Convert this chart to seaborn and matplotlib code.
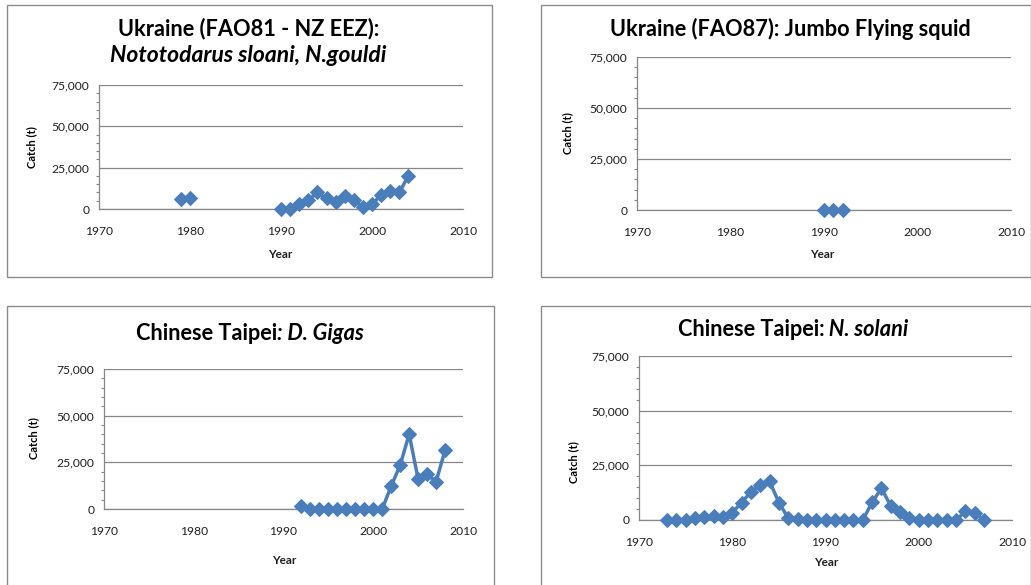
import numpy as np
import pandas as pd
import matplotlib
matplotlib.use('Agg')
import matplotlib.pyplot as plt
import matplotlib.ticker as mticker
from matplotlib.patches import Rectangle
import seaborn as sns

# catch (t) by year
years_ua81 = [1979, 1980, 1990, 1991, 1992, 1993, 1994, 1995, 1996, 1997,
              1998, 1999, 2000, 2001, 2002, 2003, 2004]
catch_ua81 = [6000, 6800, 200, 300, 2800, 5200, 10000, 6400, 4000, 7600,
              5200, 1200, 2800, 8500, 11000, 10000, 20100]

years_ua87 = [1990, 1991, 1992]
catch_ua87 = [0, 150, 0]

years_tw_gigas = [1992, 1993, 1994, 1995, 1996, 1997, 1998, 1999, 2000, 2001,
                  2002, 2003, 2004, 2005, 2006, 2007, 2008]
catch_tw_gigas = [1600, 0, 0, 0, 0, 0, 0, 0, 0, 0,
                  12300, 23500, 40100, 16000, 18500, 14600, 31500]

years_tw_solani = list(range(1973, 2008))
catch_tw_solani = [0, 0, 0, 900, 1600, 2000, 1300, 3400, 8000, 12800,
                   16000, 17700, 8000, 900, 600, 0, 0, 0, 0, 0,
                   0, 0, 8100, 14500, 6400, 3700, 800, 0, 0, 0,
                   0, 0, 3900, 3200, 0]

W, H = 1031, 585
BLUE = "#4A7EBB"
GREY = "#878787"
TXT = "#1f1f1f"

sns.set_style("white")
plt.rcParams['font.family'] = ['Lato', 'DejaVu Sans']

fig = plt.figure(figsize=(W / 100, H / 100), dpi=100)


def px_rect(l, t, r, b):
    return [l / W, 1 - b / H, (r - l) / W, (b - t) / H]


def frame(l, t, r, b):
    fig.patches.append(Rectangle((l / W, 1 - b / H), (r - l) / W, (b - t) / H,
                                 transform=fig.transFigure, fill=False,
                                 edgecolor="#8C8C8C", lw=1.0))


def mixed_title(xc, y, parts, size=15.7):
    # parts: list of (text, style); drawn side by side, centred on xc (px)
    r = fig.canvas.get_renderer()
    texts, widths = [], []
    for s, style in parts:
        t = fig.text(0, 1 - y / H, s, fontsize=size, fontweight='bold',
                     fontstyle=style, va='center', ha='left', color='black')
        widths.append(t.get_window_extent(r).width)
        texts.append(t)
    x = xc - sum(widths) / 2
    for t, w in zip(texts, widths):
        t.set_x(x / W)
        x += w


def panel(rect, years, catch, ylab_xy, xlab_xy):
    ax = fig.add_axes(px_rect(*rect))
    df = pd.DataFrame({"Year": years, "Catch": catch})
    df["seg"] = (df["Year"].diff().fillna(1) > 1).cumsum()
    sns.lineplot(data=df, x="Year", y="Catch", units="seg", estimator=None,
                 color=BLUE, lw=2.5, marker="D", markersize=6.8,
                 markeredgecolor=BLUE, ax=ax, clip_on=False, zorder=3)
    ax.set_xlim(1970, 2010)
    ax.set_ylim(0, 75000)
    ax.set_xticks([1970, 1980, 1990, 2000, 2010])
    ax.set_yticks([0, 25000, 50000, 75000])
    ax.yaxis.set_minor_locator(mticker.MultipleLocator(5000))
    ax.yaxis.set_major_formatter(mticker.FuncFormatter(lambda v, p: f"{int(v):,}"))
    ax.grid(axis='y', color=GREY, lw=0.9)
    ax.set_axisbelow(True)
    for s in ['top', 'right']:
        ax.spines[s].set_visible(False)
    for s in ['left', 'bottom']:
        ax.spines[s].set_color(GREY)
        ax.spines[s].set_linewidth(0.9)
    ax.tick_params(axis='both', which='major', direction='out', length=4,
                   width=0.9, color=GREY, labelsize=8.7, labelcolor=TXT, pad=3)
    ax.tick_params(axis='y', which='minor', direction='out', length=2.5,
                   width=0.8, color=GREY, left=True)
    ax.tick_params(axis='x', pad=8)
    ax.set_xlabel("")
    ax.set_ylabel("")
    fig.text(ylab_xy[0] / W, 1 - ylab_xy[1] / H, "Catch (t)", rotation=90,
             fontsize=8, fontweight='bold', ha='center', va='center', color='black')
    fig.text(xlab_xy[0] / W, 1 - xlab_xy[1] / H, "Year",
             fontsize=8.5, fontweight='bold', ha='center', va='center', color=TXT)
    return ax


frame(7, 5, 492, 277)
frame(541, 5, 1031, 277)
frame(7, 306, 494, 590)
frame(541, 306, 1031, 590)

panel((99, 85, 463, 209), years_ua81, catch_ua81, (32, 147), (280, 254))
panel((637, 57, 1011, 210), years_ua87, catch_ua87, (568, 133), (822, 255))
panel((104, 369, 463, 509), years_tw_gigas, catch_tw_gigas, (34, 438), (284, 561))
panel((639, 356, 1012, 520), years_tw_solani, catch_tw_solani, (574, 462), (826, 563))

mixed_title(249, 29, [("Ukraine (FAO81 - NZ EEZ):", 'normal')])
mixed_title(248, 56, [("Nototodarus sloani, N.gouldi", 'italic')], size=16.5)
mixed_title(790, 29, [("Ukraine (FAO87): Jumbo Flying squid", 'normal')])
mixed_title(250, 334, [("Chinese Taipei", 'normal'), (": D. Gigas", 'italic')])
mixed_title(793, 329, [("Chinese Taipei:", 'normal'), (" N. solani", 'italic')])

fig.savefig("out.png", dpi=100)
